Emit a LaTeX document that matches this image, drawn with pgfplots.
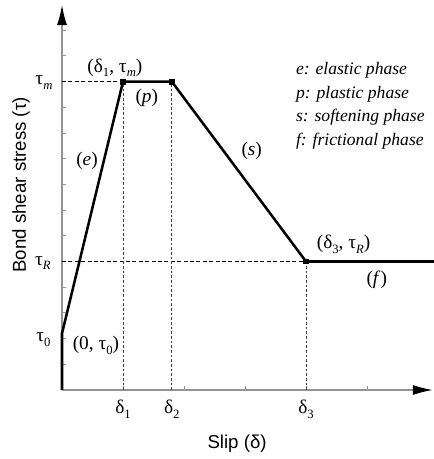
\documentclass[border=0pt]{standalone}
\usepackage{fontspec}
\setmainfont{Liberation Serif}
\setsansfont{Liberation Sans}
\usepackage{pgfplots}
\pgfplotsset{compat=1.18}
\usetikzlibrary{arrows.meta}

% subscript and annotation font
\newcommand{\sub}[1]{\raisebox{-0.55ex}{\fontsize{9.5}{10}\selectfont #1}}
\newcommand{\ann}{\fontsize{14.5}{17}\selectfont}
\newcommand{\key}{\fontsize{13.2}{16}\selectfont\itshape}

\begin{document}
\begin{tikzpicture}
\useasboundingbox (-46.5pt,-51.75pt) rectangle (279pt,292.5pt);
\begin{axis}[
    x=45.75pt, y=19.275pt,
    xmin=0, xmax=6.08,
    ymin=0, ymax=14.98,
    axis lines=left,
    axis line style={draw=gray!85, line width=1.1pt,
        -{Latex[length=15pt,width=7.5pt,color=black]}},
    xtick={1,2,3,4,5}, ytick={1,2,...,14},
    xticklabels={}, yticklabels={},
    tick align=inside,
    major tick length=3pt,
    tick style={gray!85, line width=0.7pt},
    clip=false,
]
% guide lines
\addplot[black, line width=0.6pt, dash pattern=on 3pt off 1.8pt] coordinates {(0,12) (1,12)};
\addplot[black, line width=0.6pt, dash pattern=on 3pt off 1.8pt] coordinates {(0,5) (4,5)};
\addplot[black!75, line width=0.6pt, dash pattern=on 2pt off 1.5pt] coordinates {(1,0) (1,12)};
\addplot[black!75, line width=0.6pt, dash pattern=on 2pt off 1.5pt] coordinates {(1.8,0) (1.8,12)};
\addplot[black!75, line width=0.6pt, dash pattern=on 2pt off 1.5pt] coordinates {(4,0) (4,5)};

% bond-slip law
\addplot[black, line width=1.9pt] coordinates {
    (0,0) (0,2.2) (1,12) (1.8,12) (4,5) (6.12,5)
};
\addplot[only marks, mark=square*, mark size=1.7pt, black] coordinates {
    (1,12) (1.8,12) (4,5)
};

% axis annotations
\node[anchor=base east, font=\ann] at (axis cs:-0.08,11.9) {τ\sub{\itshape m}};
\node[anchor=base east, font=\ann] at (axis cs:-0.11,4.86) {τ\sub{\itshape R}};
\node[anchor=base east, font=\ann] at (axis cs:-0.11,1.87) {τ\sub{0}};
\node[anchor=base, font=\ann] at (axis cs:1,-0.9) {δ\sub{1}};
\node[anchor=base, font=\ann] at (axis cs:1.8,-0.9) {δ\sub{2}};
\node[anchor=base, font=\ann] at (axis cs:4,-0.9) {δ\sub{3}};

% points and phases
\node[anchor=base west, font=\ann] at (axis cs:0.1,1.56) {(0, τ\sub{0})};
\node[anchor=base west, font=\ann] at (axis cs:0.34,12.37) {(δ\sub{1}, τ\sub{\itshape m})};
\node[anchor=base west, font=\ann] at (axis cs:4.10,5.49) {(δ\sub{3}, τ\sub{\itshape R})};
\node[anchor=base, font=\ann] at (axis cs:0.41,8.75) {(\textit{e})};
\node[anchor=base, font=\ann] at (axis cs:1.39,11.2) {(\textit{p})};
\node[anchor=base, font=\ann] at (axis cs:3.11,9.14) {(\textit{s})};
\node[anchor=base, font=\ann] at (axis cs:5.16,4.12) {(\textit{f})};

% phase key
\node[anchor=base west, font=\key] at (axis cs:3.76,12.26) {e: elastic phase};
\node[anchor=base west, font=\key] at (axis cs:3.76,11.36) {p: plastic phase};
\node[anchor=base west, font=\key] at (axis cs:3.76,10.43) {s: softening phase};
\node[anchor=base west, font=\key] at (axis cs:3.76,9.53) {f: frictional phase};

% axis titles
\node[anchor=base, font=\sffamily\fontsize{14}{16}\selectfont] at (axis cs:2.87,-2.26) {Slip (δ)};
\node[rotate=90, font=\sffamily\fontsize{14}{16}\selectfont] at (axis cs:-0.67,7.98) {Bond shear stress (τ)};
\end{axis}
\end{tikzpicture}
\end{document}
